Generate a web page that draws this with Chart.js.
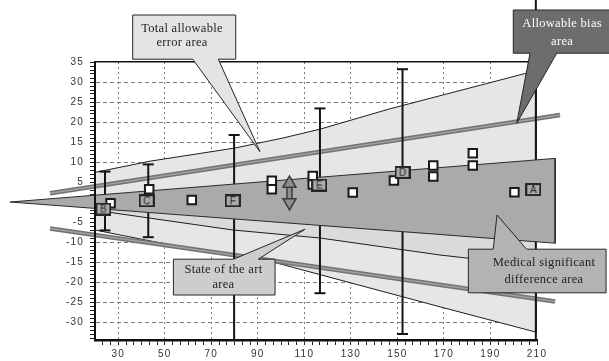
<!DOCTYPE html>
<html>
<head>
<meta charset="utf-8">
<script src="https://cdn.jsdelivr.net/npm/chart.js@4.4.1/dist/chart.umd.min.js"></script>
<style>
html, body { margin: 0; padding: 0; background: #fff; }
canvas { display: block; }
</style>
</head>
<body>
<canvas id="chart" width="609" height="361"></canvas>
<script>
// materials with their letter boxes
const markLabels = ['B', 'C', 'F', 'E', 'D', 'A'];
const markX = [23.6, 42.2, 79.2, 116.4, 152.2, 208.4];
const markY = [-1.75, 0.3, 0.3, 4.25, 7.4, 3.1];

// vertical bars (top / bottom values)
const barX = [24.3, 42.9, 79.8, 116.7, 152.2, 209.5];
const barHi = [7.6, 9.4, 16.75, 23.4, 33.2, 55];
const barLo = [-7.1, -8.8, -36, -22.8, -33.0, -36];

// open squares (single results)
const resultX = [26.7, 43.3, 61.6, 96.0, 96.0, 113.6, 113.6, 130.8, 148.5, 165.4, 165.4, 182.4, 182.4, 200.3];
const resultY = [-0.3, 3.2, 0.5, 5.3, 3.2, 6.5, 4.4, 2.4, 5.4, 9.1, 6.4, 12.2, 9.1, 2.45];

// total allowable error area
const taeUpperX = [20, 43.6, 80.2, 100.8, 116.7, 146.8, 210];
const taeUpper = [7.4, 10.2, 13.5, 16, 18.2, 23.3, 32.9];
const taeLowerX = [20, 47.9, 96.5, 168.3, 210];
const taeLower = [-7.0, -10.2, -15.0, -26.2, -32.6];

// state of the art limit
const sotaX = [20, 26.4, 79.3, 116.7, 168.3, 210];
const sotaLower = [-1.7, -2.6, -7.0, -9.0, -13.25, -16];

// medical significant difference wedge
const msdX = [-16.5, 217.8];
const msdUpper = [0, 10.9];
const msdLower = [0, -10.3];

// allowable bias lines
const biasUpperX = [0.65, 219.9];
const biasUpper = [2.2, 21.75];
const biasLowerX = [0.65, 217.8];
const biasLower = [-6.6, -24.9];

// double arrow
const arrowX = [103.6, 103.6];
const arrowY = [4.6, -0.1];

const xLabels = [30, 50, 70, 90, 110, 130, 150, 170, 190, 210];
const yLabels = [-30, -25, -20, -15, -10, -5, 0, 5, 10, 15, 20, 25, 30, 35];

const callouts = [
    { lines: ['Total allowable', 'error area'], box: [36.2, 80.5, 46.75, 35.7], side: 'bottom',
      base: [62, 73], tip: [90.9, 12.6], text: [57.4, 43.4, 39.7], fill: '#e4e4e4', ink: '#1e1e1e' },
    { lines: ['Allowable bias', 'area'], box: [199.8, 243, 48, 37.2], side: 'bottom',
      base: [207, 218.5], tip: [201.3, 19.7], text: [220.8, 44.6, 40.1], fill: '#6d6d6d', ink: '#ffffff' },
    { lines: ['Medical significant', 'difference area'], box: [180.5, 239.7, -11.8, -22.7], side: 'top',
      base: [191.2, 205.5], tip: [192.8, -3.25], text: [213, -15.3, -19.5], fill: '#b3b3b3', ink: '#1e1e1e' },
    { lines: ['State of the art', 'area'], box: [53.7, 97.4, -14.3, -23.25], side: 'top',
      base: [79.5, 90.2], tip: [110.3, -6.8], text: [75.2, -17, -20.75], fill: '#cdcdcd', ink: '#1e1e1e' }
];

// tick positions: minor marks every 10/3 on x, every 1 on y
const xTicks = [];
for (let k = -2; k <= 54; k++) xTicks.push(30 + k * 10 / 3);
const yTicks = [];
for (let v = -34; v <= 35; v++) yTicks.push(v);

function pts(xs, ys) {
    return xs.map(function(x, i) { return {x: x, y: ys[i]}; });
}

function isLabelX(v) {
    return xLabels.some(function(l) { return Math.abs(l - v) < 1e-6; });
}

const gridGray = '#7c7c7c';
const none = 'rgba(0,0,0,0)';
const xGridColors = xTicks.map(function(v) { return (isLabelX(v) && v < 209) ? gridGray : none; });
const yGridColors = yTicks.map(function(v) { return (yLabels.indexOf(v) >= 0 && v < 35) ? gridGray : none; });

function letterBox(ch) {
    let c = document.createElement('canvas');
    c.width = 16;
    c.height = 13;
    let g = c.getContext('2d');
    g.fillStyle = '#ababab';
    g.fillRect(1, 1, 14, 11);
    g.strokeStyle = '#262626';
    g.lineWidth = 2;
    g.strokeRect(1, 1, 14, 11);
    g.fillStyle = '#222';
    g.font = '10px "Liberation Sans", Arial, sans-serif';
    g.textAlign = 'center';
    g.textBaseline = 'middle';
    g.fillText(ch, 8, 7);
    return c;
}

const line = { showLine: true, pointRadius: 0, fill: false, tension: 0 };

let datasets = [
    Object.assign({}, line, {
        data: pts(taeUpperX.concat(taeLowerX.slice().reverse()), taeUpper.concat(taeLower.slice().reverse())),
        polyFill: '#e6e6e6', borderColor: '#1e1e1e', borderWidth: 1, order: 100
    }),
    Object.assign({}, line, {
        data: pts(sotaX.concat([210, 20]), sotaLower.concat([0, 0])),
        polyFill: '#dadada', borderColor: none, borderWidth: 0, order: 95
    }),
    Object.assign({}, line, {
        data: pts(sotaX, sotaLower), borderColor: '#1e1e1e', borderWidth: 1, order: 90
    })
];

// allowable bias lines: darker edge with a lighter core
[[biasUpperX, biasUpper], [biasLowerX, biasLower]].forEach(function(b) {
    datasets.push(Object.assign({}, line, {
        data: pts(b[0], b[1]), borderColor: '#737373', borderWidth: 4.5, clip: false, order: 82
    }));
    datasets.push(Object.assign({}, line, {
        data: pts(b[0], b[1]), borderColor: '#a0a0a0', borderWidth: 1.5, clip: false, order: 81
    }));
});

barX.forEach(function(bx, i) {
    let inside = function(v) { return v > -34.5 && v < 35; };
    datasets.push(Object.assign({}, line, {
        data: [{x: bx, y: barHi[i]}, {x: bx, y: barLo[i]}],
        borderColor: '#151515', borderWidth: 2,
        pointStyle: 'line',
        pointRadius: [inside(barHi[i]) ? 5.5 : 0, inside(barLo[i]) ? 5.5 : 0],
        pointBorderColor: '#151515', pointBorderWidth: 2,
        clip: {left: false, top: false, right: false, bottom: 0},
        order: 70
    }));
});

datasets.push(
    Object.assign({}, line, {
        data: pts([msdX[0], msdX[1], msdX[1], msdX[0]], [msdUpper[0], msdUpper[1], msdLower[1], msdLower[0]]),
        polyFill: '#aaaaac', borderColor: '#2a2a2a', borderWidth: 1, clip: false, order: 60
    }),
    {
        data: pts(resultX, resultY), showLine: false, pointStyle: 'rect', pointRadius: 6,
        pointBackgroundColor: '#ffffff', pointBorderColor: '#1a1a1a', pointBorderWidth: 2, clip: false, order: 50
    },
    {
        data: pts(markX, markY), showLine: false, pointStyle: markLabels.map(letterBox), pointRadius: 8,
        clip: false, order: 40
    },
    Object.assign({}, line, {
        data: pts(arrowX, arrowY), borderColor: '#3c3c3c', borderWidth: 6.5, order: 30
    }),
    Object.assign({}, line, {
        data: pts(arrowX, arrowY), borderColor: '#8e8e8e', borderWidth: 3.5, order: 25
    }),
    {
        data: pts(arrowX, arrowY), showLine: false, pointStyle: 'triangle', pointRotation: [0, 180],
        pointRadius: 7.5, pointBackgroundColor: '#8e8e8e', pointBorderColor: '#3c3c3c', pointBorderWidth: 1.5,
        order: 20
    }
);

const drawHelpers = {
    id: 'drawHelpers',
    beforeDraw: function(chart) {
        chart.ctx.letterSpacing = '1.2px';
    },
    beforeDatasetsDraw: function(chart) {
        chart.ctx.letterSpacing = '0px';
    },
    beforeDatasetDraw: function(chart, args) {
        let ds = chart.data.datasets[args.index];
        if (!ds.polyFill) return;
        let ctx = chart.ctx;
        ctx.save();
        ctx.beginPath();
        args.meta.data.forEach(function(e, i) {
            if (i) ctx.lineTo(e.x, e.y); else ctx.moveTo(e.x, e.y);
        });
        ctx.closePath();
        ctx.fillStyle = ds.polyFill;
        ctx.fill();
        ctx.restore();
    },
    afterDraw: function(chart) {
        let ctx = chart.ctx;
        let xs = chart.scales.x, ys = chart.scales.y;
        callouts.forEach(function(c) {
            let x0 = xs.getPixelForValue(c.box[0]), x1 = xs.getPixelForValue(c.box[1]);
            let y0 = ys.getPixelForValue(c.box[2]), y1 = ys.getPixelForValue(c.box[3]);
            let a = xs.getPixelForValue(c.base[0]), b = xs.getPixelForValue(c.base[1]);
            let tx = xs.getPixelForValue(c.tip[0]), ty = ys.getPixelForValue(c.tip[1]);
            ctx.save();
            ctx.beginPath();
            ctx.moveTo(x0, y0);
            if (c.side === 'top') { ctx.lineTo(a, y0); ctx.lineTo(tx, ty); ctx.lineTo(b, y0); }
            ctx.lineTo(x1, y0);
            ctx.lineTo(x1, y1);
            if (c.side === 'bottom') { ctx.lineTo(b, y1); ctx.lineTo(tx, ty); ctx.lineTo(a, y1); }
            ctx.lineTo(x0, y1);
            ctx.closePath();
            ctx.fillStyle = c.fill;
            ctx.fill();
            ctx.lineWidth = 1;
            ctx.strokeStyle = '#262626';
            ctx.stroke();
            ctx.fillStyle = c.ink;
            ctx.font = '12.5px "Liberation Serif"';
            ctx.letterSpacing = '0.3px';
            ctx.textAlign = 'center';
            ctx.textBaseline = 'middle';
            c.lines.forEach(function(t, i) {
                ctx.fillText(t, xs.getPixelForValue(c.text[0]), ys.getPixelForValue(c.text[i + 1]));
            });
            ctx.restore();
        });
    }
};

const tickFont = { family: '"Liberation Sans", Arial, sans-serif', size: 10 };

const myChart = new Chart(document.getElementById('chart'), {
    type: 'scatter',
    data: { datasets: datasets },
    plugins: [drawHelpers],
    options: {
        responsive: false,
        animation: false,
        events: [],
        devicePixelRatio: 1,
        layout: { padding: { left: 0, right: 72, top: 62, bottom: 0 } },
        plugins: { legend: { display: false }, tooltip: { enabled: false } },
        scales: {
            x: {
                type: 'linear', min: 20, max: 210,
                afterBuildTicks: function(s) {
                    s.ticks = xTicks.map(function(v) { return { value: v }; });
                },
                afterFit: function(s) { s.height = 21; },
                ticks: {
                    autoSkip: false, maxRotation: 0, padding: 3, color: '#333', font: tickFont,
                    callback: function(v) { return isLabelX(v) ? String(Math.round(v)) : ''; }
                },
                grid: { color: xGridColors, tickColor: '#222', tickLength: 5, lineWidth: 1 },
                border: { color: '#111', width: 2.5, dash: [2, 3], z: 1 }
            },
            xTop: {
                type: 'linear', position: 'top', min: 20, max: 210,
                afterFit: function(s) { s.height = 0; },
                ticks: { display: false },
                grid: { drawOnChartArea: false, drawTicks: false },
                border: { color: '#111', width: 1.5, z: 1 }
            },
            y: {
                type: 'linear', min: -34.5, max: 35,
                afterBuildTicks: function(s) {
                    s.ticks = yTicks.map(function(v) { return { value: v }; });
                },
                afterFit: function(s) { s.width = 95; },
                ticks: {
                    autoSkip: false, padding: 6, color: '#333', font: tickFont,
                    callback: function(v) { return yLabels.indexOf(v) >= 0 ? String(v) : ''; }
                },
                grid: { color: yGridColors, tickColor: '#222', tickLength: 5, lineWidth: 1 },
                border: { color: '#111', width: 2, dash: [4, 3], z: 1 }
            }
        }
    }
});
</script>
</body>
</html>
